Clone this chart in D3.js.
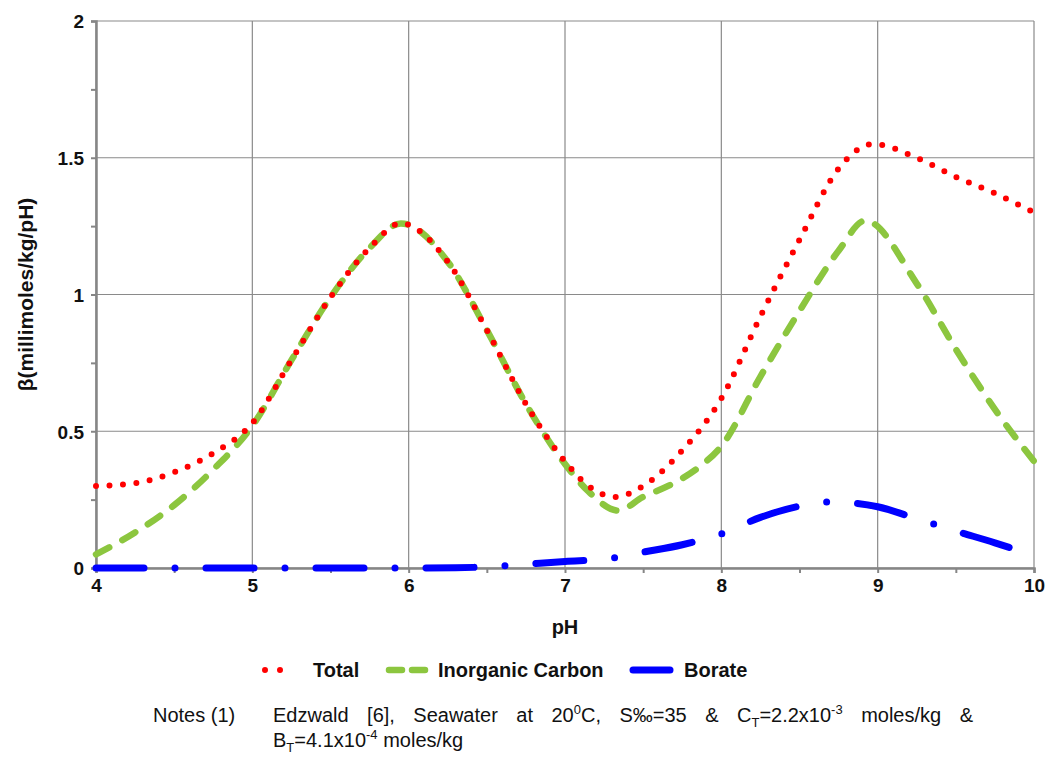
<!DOCTYPE html>
<html>
<head>
<meta charset="utf-8">
<script src="https://cdn.jsdelivr.net/npm/d3@7"></script>
<style>
  body { margin: 0; background: #fff; }
  svg text { font-family: "Liberation Sans", Arial, sans-serif; fill: #111; }
  .tick text { font-size: 19px; font-weight: bold; }
</style>
</head>
<body>
<svg id="chart" width="1046" height="757"></svg>
<script>
// pH values and buffer intensity (millimoles/kg/pH)
const phTotal = [4, 4.25, 4.5, 4.75, 5, 5.25, 5.5, 5.75, 5.95, 6.25, 6.5, 6.75, 7, 7.15, 7.32, 7.5, 7.75, 8, 8.25, 8.5, 8.75, 8.97, 9.25, 9.5, 9.75, 10];
const total   = [0.30, 0.31, 0.35, 0.42, 0.53, 0.76, 0.99, 1.17, 1.26, 1.12, 0.87, 0.60, 0.39, 0.30, 0.26, 0.30, 0.43, 0.62, 0.92, 1.20, 1.46, 1.55, 1.50, 1.43, 1.37, 1.30];

const phCarbon = [4, 4.25, 4.5, 4.75, 5, 5.25, 5.5, 5.75, 5.95, 6.25, 6.5, 6.75, 7, 7.15, 7.34, 7.5, 7.66, 7.86, 8, 8.25, 8.5, 8.75, 8.92, 9.25, 9.5, 9.75, 10];
const carbon   = [0.05, 0.13, 0.23, 0.36, 0.52, 0.76, 0.99, 1.17, 1.26, 1.12, 0.87, 0.60, 0.38, 0.28, 0.21, 0.26, 0.30, 0.37, 0.445, 0.70, 0.94, 1.16, 1.27, 1.04, 0.80, 0.58, 0.39];

const phBorate = [4, 4.5, 5, 5.5, 6, 6.3, 6.5, 6.75, 7, 7.25, 7.5, 7.75, 8, 8.25, 8.5, 8.7, 9, 9.25, 9.5, 9.75, 9.88];
const borate   = [0, 0, 0, 0, 0, 0.001, 0.004, 0.014, 0.024, 0.032, 0.058, 0.085, 0.125, 0.185, 0.226, 0.242, 0.224, 0.18, 0.135, 0.092, 0.068];

const xTicks = [4, 5, 6, 7, 8, 9, 10];
const yTicks = [0, 0.5, 1, 1.5, 2];

const svg = d3.select("#chart");

const x = d3.scaleLinear().domain([4, 10]).range([96, 1034]);
const y = d3.scaleLinear().domain([0, 2]).range([568, 21]);

// grid lines
svg.append("g").selectAll("line")
    .data(xTicks)
    .join("line")
    .attr("x1", d => x(d)).attr("x2", d => x(d))
    .attr("y1", y(2)).attr("y2", y(0))
    .attr("stroke", "#8a8a8a").attr("stroke-width", 1.2);

svg.append("g").selectAll("line")
    .data(yTicks)
    .join("line")
    .attr("x1", x(4)).attr("x2", x(10))
    .attr("y1", d => y(d)).attr("y2", d => y(d))
    .attr("stroke", "#8a8a8a").attr("stroke-width", 1.2);

// axes
let xAxis = d3.axisBottom(x)
    .tickValues(d3.range(4, 10.01, 0.5))
    .tickSize(5)
    .tickPadding(6)
    .tickFormat(d => Number.isInteger(d) ? d : "");

let yAxis = d3.axisLeft(y)
    .tickValues(d3.range(0, 2.01, 0.25))
    .tickSize(5)
    .tickPadding(7)
    .tickFormat(d => (d * 2) % 1 === 0 ? d : "");

let gx = svg.append("g").attr("transform", "translate(0," + y(0) + ")").call(xAxis);
let gy = svg.append("g").attr("transform", "translate(" + x(4) + ",0)").call(yAxis);

[gx, gy].forEach(g => {
    g.select(".domain").attr("stroke", "#868686").attr("stroke-width", 2.5);
    g.selectAll(".tick line").attr("stroke", "#868686").attr("stroke-width", 2);
    g.selectAll(".tick text").attr("fill", "#111");
});
gy.selectAll(".tick text").attr("dy", "0.36em");

// axis titles
svg.append("text")
    .attr("x", x(7)).attr("y", 634)
    .attr("text-anchor", "middle")
    .style("font-size", "20px").style("font-weight", "bold")
    .text("pH");

svg.append("text")
    .attr("transform", "translate(25," + y(1) + ") rotate(-90)")
    .attr("text-anchor", "middle")
    .attr("dominant-baseline", "central")
    .style("font-size", "21px").style("font-weight", "bold")
    .text("β(millimoles/kg/pH)");

// series
const series = [
    { name: "Total", ph: phTotal, vals: total, color: "#ff0000", width: 6, dash: "0 13.5" },
    { name: "Inorganic Carbon", ph: phCarbon, vals: carbon, color: "#8cc63f", width: 6.5, dash: "15 15" },
    { name: "Borate", ph: phBorate, vals: borate, color: "#0000ff", width: 7, dash: "48 31 0 31" }
];

let line = d3.line()
    .x(d => x(d[0]))
    .y(d => y(d[1]))
    .curve(d3.curveMonotoneX);

// draw borate first, then carbon, then total on top
[series[2], series[1], series[0]].forEach(s => {
    svg.append("path")
        .datum(s.ph.map((p, i) => [p, s.vals[i]]))
        .attr("d", line)
        .attr("fill", "none")
        .attr("stroke", s.color)
        .attr("stroke-width", s.width)
        .attr("stroke-linecap", "round")
        .attr("stroke-dasharray", s.dash);
});

// legend
const legendY = 670;
let legend = svg.append("g");

legend.append("line")
    .attr("x1", 265).attr("x2", 295).attr("y1", legendY).attr("y2", legendY)
    .attr("stroke", series[0].color).attr("stroke-width", 6)
    .attr("stroke-linecap", "round").attr("stroke-dasharray", "0 15");
legend.append("text").attr("x", 313).attr("y", legendY + 7)
    .style("font-size", "20px").style("font-weight", "bold").text("Total");

legend.append("line")
    .attr("x1", 389).attr("x2", 425).attr("y1", legendY).attr("y2", legendY)
    .attr("stroke", series[1].color).attr("stroke-width", 6.5)
    .attr("stroke-linecap", "round").attr("stroke-dasharray", "13 10");
legend.append("text").attr("x", 438).attr("y", legendY + 7)
    .style("font-size", "20px").style("font-weight", "bold").text("Inorganic Carbon");

legend.append("line")
    .attr("x1", 633).attr("x2", 670).attr("y1", legendY).attr("y2", legendY)
    .attr("stroke", series[2].color).attr("stroke-width", 7)
    .attr("stroke-linecap", "round");
legend.append("text").attr("x", 684).attr("y", legendY + 7)
    .style("font-size", "20px").style("font-weight", "bold").text("Borate");

// notes
let notes = svg.append("g").style("font-size", "20px");

notes.append("text").attr("x", 153).attr("y", 722).text("Notes (1)");

// each word: list of [text, kind] pieces ; kind: n normal, sup, sub
const words = [
    [["Edzwald", "n"]],
    [["[6],", "n"]],
    [["Seawater", "n"]],
    [["at", "n"]],
    [["20", "n"], ["0", "sup"], ["C,", "n"]],
    [["S‰=35", "n"]],
    [["&", "n"]],
    [["C", "n"], ["T", "sub"], ["=2.2x10", "n"], ["-3", "sup"]],
    [["moles/kg", "n"]],
    [["&", "n"]]
];

function addPieces(t, pieces) {
    let shift = 0;
    pieces.forEach(p => {
        let target = p[1] === "sup" ? -8 : (p[1] === "sub" ? 5 : 0);
        let ts = t.append("tspan").attr("dy", target - shift).text(p[0]);
        if (p[1] !== "n") ts.style("font-size", "13px");
        shift = target;
    });
}

let lineStart = 273, lineEnd = 973;
let wordNodes = words.map(w => {
    let t = notes.append("text").attr("y", 722);
    addPieces(t, w);
    return t;
});
let widths = wordNodes.map(t => t.node().getComputedTextLength());
let gap = (lineEnd - lineStart - d3.sum(widths)) / (words.length - 1);
let cx = lineStart;
wordNodes.forEach((t, i) => {
    t.attr("x", cx);
    cx += widths[i] + gap;
});

let line2 = notes.append("text").attr("x", 273).attr("y", 747);
addPieces(line2, [["B", "n"], ["T", "sub"], ["=4.1x10", "n"], ["-4", "sup"], [" moles/kg", "n"]]);
</script>
</body>
</html>
